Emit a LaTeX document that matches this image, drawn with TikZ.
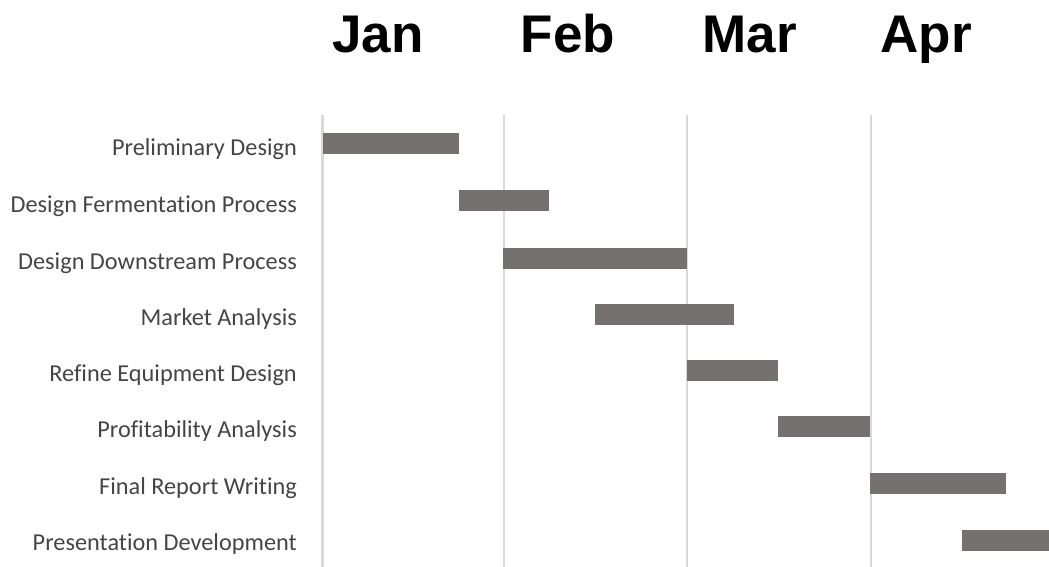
\documentclass[tikz,border=0pt]{standalone}
\usepackage{fontspec}
\newfontfamily\tasklabelfont[Ligatures={NoCommon}]{Carlito}
\newfontfamily\monthlabelfont{Liberation Sans}
\definecolor{barfill}{HTML}{767171}
\definecolor{gridgray}{HTML}{D9D9D9}
\definecolor{labeltext}{HTML}{454545}
\begin{document}
\begin{tikzpicture}[x=1pt,y=-1pt,
  tasklabel/.style={anchor=base east,inner sep=0pt,text=labeltext,
    font=\tasklabelfont\fontsize{24.3}{28}\selectfont},
  monthlabel/.style={anchor=base,inner sep=0pt,text=black,
    font=\monthlabelfont\bfseries\fontsize{53}{60}\selectfont},
  gridline/.style={draw=gridgray,line width=2.2pt},
  taskbar/.style={fill=barfill}]
\path[use as bounding box] (0,0) rectangle (1049,567);

% month boundaries
\foreach \gx/\gn in {322.5/g1,504/g2,687/g3,871/g4}{
  \coordinate (\gn top) at (\gx,115);
  \coordinate (\gn bot) at (\gx,567);
  \draw[gridline] (\gn top) -- (\gn bot);
}

% month headings
\node[monthlabel] (jan) at (378,52.7) {Jan};
\node[monthlabel] (feb) at (568,52.7) {Feb};
\node[monthlabel] (mar) at (749.5,52.7) {Mar};
\node[monthlabel] (apr) at (926,52.7) {Apr};

% task bars: start/end/row centre
\foreach \xa/\xb/\yc in {
  323/459/143.8,
  459/549/200.5,
  503/687/258,
  595/734/314,
  687/778/370,
  778/870/426.5,
  870/1006/483,
  962/1049/540}{
  \fill[taskbar] (\xa,\yc-10.5) rectangle (\xb,\yc+10.5);
}

% task names
\node[tasklabel] (t1) at (297,155.5) {Preliminary Design};
\node[tasklabel] (t2) at (297,212) {Design Fermentation Process};
\node[tasklabel] (t3) at (297,269.5) {Design Downstream Process};
\node[tasklabel] (t4) at (297,325.5) {Market Analysis};
\node[tasklabel] (t5) at (297,381.5) {Refine Equipment Design};
\node[tasklabel] (t6) at (297,437.5) {Profitability Analysis};
\node[tasklabel] (t7) at (297,494.5) {Final Report Writing};
\node[tasklabel] (t8) at (297,550.5) {Presentation Development};
\end{tikzpicture}
\end{document}
